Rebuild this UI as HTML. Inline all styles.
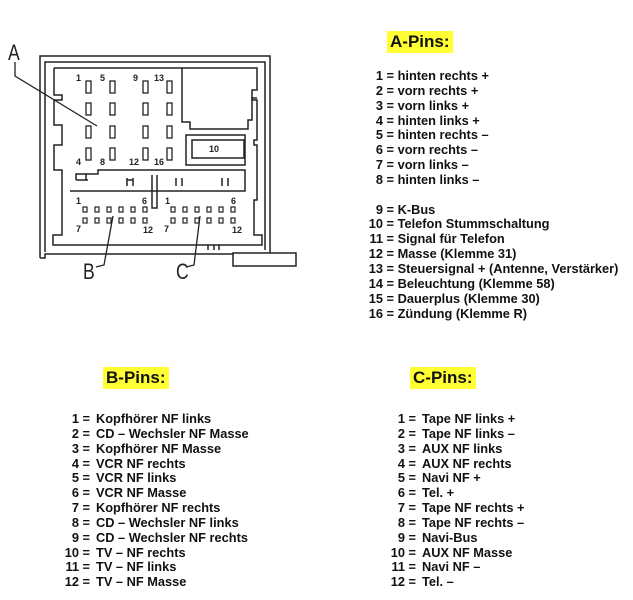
<!DOCTYPE html>
<html><head><meta charset="utf-8"><style>
body{margin:0;width:633px;height:600px;background:#fff;position:relative;overflow:hidden;font-family:"Liberation Sans",Arial,sans-serif;font-weight:bold;color:#111}
.h{position:absolute;background:#ffff33;font-size:17px;height:22px;line-height:22px;padding:0 3px}
.l{position:absolute;font-size:12.8px;line-height:14.85px;white-space:pre}
.r{display:inline-block;text-align:right}
.e{display:inline-block}
</style></head><body>
<svg width="310" height="290" style="position:absolute;left:0;top:0" fill="none" stroke="#222">
<g stroke-width="1.5">
<polyline points="40,258 45,258 45,254 270,254 270,56 40,56 40,258"/>
<polyline points="45,252 45,62 265,62 265,250"/>
<polyline points="54,68 257,68 257,90 252,90 252,100 257,100 257,140 254,140 254,145 257,145 257,200 254,200 254,235 262,235 262,245 53,245 53,235 62,235 62,170 54,170 54,145 62,145 62,125 54,125 54,100 62,100 62,95 54,95 54,68"/>
<polyline points="182,68 182,122 190,122 190,129 248,129 248,120 252,120 252,98 257,98"/>
<rect x="186" y="135" width="59" height="30"/>
<rect x="192" y="140" width="52" height="18" fill="#fff"/>
<polyline points="76,180 76,174 98,174 98,170 245,170 245,191 70,191"/>
<line x1="76" y1="180" x2="88" y2="180"/><line x1="86" y1="174" x2="86" y2="180"/>
<line x1="127" y1="180" x2="133" y2="180"/><line x1="127" y1="178" x2="127" y2="186"/><line x1="133" y1="178" x2="133" y2="186"/>
<line x1="176" y1="178" x2="176" y2="186"/><line x1="182" y1="178" x2="182" y2="186"/>
<line x1="222" y1="178" x2="222" y2="186"/><line x1="228" y1="178" x2="228" y2="186"/>
<polyline points="152,175 152,208 157,208 157,175"/>
<rect x="233" y="253" width="63" height="13" fill="#fff"/>
<line x1="208" y1="245" x2="208" y2="250"/><line x1="214" y1="245" x2="214" y2="250"/><line x1="219" y1="245" x2="219" y2="250"/>
</g>
<g stroke-width="1.3">
<rect x="86" y="81" width="5" height="12"/><rect x="110" y="81" width="5" height="12"/><rect x="143" y="81" width="5" height="12"/><rect x="167" y="81" width="5" height="12"/>
<rect x="86" y="103" width="5" height="12"/><rect x="110" y="103" width="5" height="12"/><rect x="143" y="103" width="5" height="12"/><rect x="167" y="103" width="5" height="12"/>
<rect x="86" y="126" width="5" height="12"/><rect x="110" y="126" width="5" height="12"/><rect x="143" y="126" width="5" height="12"/><rect x="167" y="126" width="5" height="12"/>
<rect x="86" y="148" width="5" height="12"/><rect x="110" y="148" width="5" height="12"/><rect x="143" y="148" width="5" height="12"/><rect x="167" y="148" width="5" height="12"/>
</g>
<g stroke-width="1.2">
<rect x="83" y="207" width="4" height="5"/><rect x="95" y="207" width="4" height="5"/><rect x="107" y="207" width="4" height="5"/><rect x="119" y="207" width="4" height="5"/><rect x="131" y="207" width="4" height="5"/><rect x="143" y="207" width="4" height="5"/>
<rect x="83" y="218" width="4" height="5"/><rect x="95" y="218" width="4" height="5"/><rect x="107" y="218" width="4" height="5"/><rect x="119" y="218" width="4" height="5"/><rect x="131" y="218" width="4" height="5"/><rect x="143" y="218" width="4" height="5"/>
<rect x="171" y="207" width="4" height="5"/><rect x="183" y="207" width="4" height="5"/><rect x="195" y="207" width="4" height="5"/><rect x="207" y="207" width="4" height="5"/><rect x="219" y="207" width="4" height="5"/><rect x="231" y="207" width="4" height="5"/>
<rect x="171" y="218" width="4" height="5"/><rect x="183" y="218" width="4" height="5"/><rect x="195" y="218" width="4" height="5"/><rect x="207" y="218" width="4" height="5"/><rect x="219" y="218" width="4" height="5"/><rect x="231" y="218" width="4" height="5"/>
</g>
<g stroke-width="1.3">
<polyline points="15,62 15,76 97,126"/>
<polyline points="113,216 104,265 96,267"/>
<polyline points="200,216 194,265 186,267"/>
</g>
<g fill="#222" stroke="none" font-family="Liberation Sans,Arial,sans-serif" font-size="9" font-weight="bold">
<text x="76" y="81">1</text><text x="100" y="81">5</text><text x="133" y="81">9</text><text x="154" y="81">13</text>
<text x="76" y="165">4</text><text x="100" y="165">8</text><text x="129" y="165">12</text><text x="154" y="165">16</text>
<text x="209" y="152">10</text>
<text x="76" y="204">1</text><text x="142" y="204">6</text><text x="76" y="232">7</text><text x="143" y="233">12</text>
<text x="165" y="204">1</text><text x="231" y="204">6</text><text x="164" y="232">7</text><text x="232" y="233">12</text>
</g>
<g fill="#222" stroke="none" font-family="Liberation Sans,Arial,sans-serif" font-size="22" font-weight="normal">
<text x="8" y="60" transform="translate(8,0) scale(0.8,1) translate(-8,0)">A</text>
<text x="83" y="279" transform="translate(83,0) scale(0.8,1) translate(-83,0)">B</text>
<text x="176" y="279" transform="translate(176,0) scale(0.8,1) translate(-176,0)">C</text>
</g>
</svg>

<div class="h" style="left:387px;top:31px">A-Pins:</div>
<div class="h" style="left:103px;top:367px">B-Pins:</div>
<div class="h" style="left:410px;top:367px">C-Pins:</div>

<div class="l" style="left:366px;top:69px"><span class="r" style="width:17px">1</span> = hinten rechts +
<span class="r" style="width:17px">2</span> = vorn rechts +
<span class="r" style="width:17px">3</span> = vorn links +
<span class="r" style="width:17px">4</span> = hinten links +
<span class="r" style="width:17px">5</span> = hinten rechts –
<span class="r" style="width:17px">6</span> = vorn rechts –
<span class="r" style="width:17px">7</span> = vorn links –
<span class="r" style="width:17px">8</span> = hinten links –

<span class="r" style="width:17px">9</span> = K-Bus
<span class="r" style="width:17px">10</span> = Telefon Stummschaltung
<span class="r" style="width:17px">11</span> = Signal für Telefon
<span class="r" style="width:17px">12</span> = Masse (Klemme 31)
<span class="r" style="width:17px">13</span> = Steuersignal + (Antenne, Verstärker)
<span class="r" style="width:17px">14</span> = Beleuchtung (Klemme 58)
<span class="r" style="width:17px">15</span> = Dauerplus (Klemme 30)
<span class="r" style="width:17px">16</span> = Zündung (Klemme R)</div>

<div class="l" style="left:60px;top:412px"><span class="r" style="width:19px">1</span><span class="e" style="width:17px"> =</span>Kopfhörer NF links
<span class="r" style="width:19px">2</span><span class="e" style="width:17px"> =</span>CD – Wechsler NF Masse
<span class="r" style="width:19px">3</span><span class="e" style="width:17px"> =</span>Kopfhörer NF Masse
<span class="r" style="width:19px">4</span><span class="e" style="width:17px"> =</span>VCR NF rechts
<span class="r" style="width:19px">5</span><span class="e" style="width:17px"> =</span>VCR NF links
<span class="r" style="width:19px">6</span><span class="e" style="width:17px"> =</span>VCR NF Masse
<span class="r" style="width:19px">7</span><span class="e" style="width:17px"> =</span>Kopfhörer NF rechts
<span class="r" style="width:19px">8</span><span class="e" style="width:17px"> =</span>CD – Wechsler NF links
<span class="r" style="width:19px">9</span><span class="e" style="width:17px"> =</span>CD – Wechsler NF rechts
<span class="r" style="width:19px">10</span><span class="e" style="width:17px"> =</span>TV – NF rechts
<span class="r" style="width:19px">11</span><span class="e" style="width:17px"> =</span>TV – NF links
<span class="r" style="width:19px">12</span><span class="e" style="width:17px"> =</span>TV – NF Masse</div>

<div class="l" style="left:386px;top:412px"><span class="r" style="width:19px">1</span><span class="e" style="width:17px"> =</span>Tape NF links +
<span class="r" style="width:19px">2</span><span class="e" style="width:17px"> =</span>Tape NF links –
<span class="r" style="width:19px">3</span><span class="e" style="width:17px"> =</span>AUX NF links
<span class="r" style="width:19px">4</span><span class="e" style="width:17px"> =</span>AUX NF rechts
<span class="r" style="width:19px">5</span><span class="e" style="width:17px"> =</span>Navi NF +
<span class="r" style="width:19px">6</span><span class="e" style="width:17px"> =</span>Tel. +
<span class="r" style="width:19px">7</span><span class="e" style="width:17px"> =</span>Tape NF rechts +
<span class="r" style="width:19px">8</span><span class="e" style="width:17px"> =</span>Tape NF rechts –
<span class="r" style="width:19px">9</span><span class="e" style="width:17px"> =</span>Navi-Bus
<span class="r" style="width:19px">10</span><span class="e" style="width:17px"> =</span>AUX NF Masse
<span class="r" style="width:19px">11</span><span class="e" style="width:17px"> =</span>Navi NF –
<span class="r" style="width:19px">12</span><span class="e" style="width:17px"> =</span>Tel. –</div>
</body></html>
